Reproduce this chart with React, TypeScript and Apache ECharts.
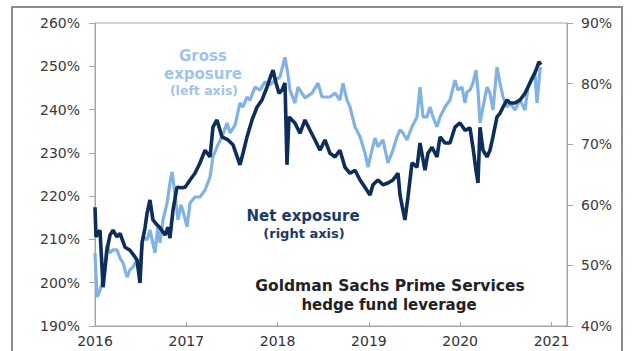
import React, { useEffect, useRef } from "react";
import * as echarts from "echarts";

// Gross exposure (left axis, %) — x in decimal years
const grossX = [
  2016.000, 2016.022, 2016.055, 2016.088, 2016.131, 2016.164, 2016.197, 2016.241, 2016.274, 2016.307,
  2016.351, 2016.383, 2016.416, 2016.460, 2016.493, 2016.526, 2016.570, 2016.602, 2016.657, 2016.690,
  2016.712, 2016.745, 2016.789, 2016.821, 2016.844, 2016.877, 2016.909, 2016.942, 2016.975, 2017.008,
  2017.041, 2017.095, 2017.150, 2017.205, 2017.260, 2017.292, 2017.336, 2017.391, 2017.446, 2017.479,
  2017.534, 2017.588, 2017.621, 2017.665, 2017.698, 2017.753, 2017.807, 2017.862, 2017.917, 2017.972,
  2018.026, 2018.059, 2018.081, 2018.114, 2018.136, 2018.190, 2018.223, 2018.300, 2018.377, 2018.443,
  2018.486, 2018.574, 2018.629, 2018.683, 2018.716, 2018.760, 2018.793, 2018.848, 2018.903, 2018.957,
  2018.990, 2019.034, 2019.067, 2019.100, 2019.154, 2019.209, 2019.264, 2019.308, 2019.341, 2019.373,
  2019.417, 2019.472, 2019.527, 2019.560, 2019.593, 2019.636, 2019.669, 2019.702, 2019.746, 2019.779,
  2019.834, 2019.888, 2019.943, 2019.976, 2020.020, 2020.053, 2020.075, 2020.107, 2020.140, 2020.173,
  2020.195, 2020.217, 2020.250, 2020.294, 2020.326, 2020.359, 2020.403, 2020.436, 2020.469, 2020.513,
  2020.545, 2020.600, 2020.655, 2020.710, 2020.743, 2020.786, 2020.819, 2020.841, 2020.874, 2020.885,
];
const grossY = [
  206.9, 196.7, 198.3, 200.6, 208.7, 206.9, 207.6, 207.6, 205.7, 204.6,
  201.3, 203.0, 203.6, 205.3, 204.1, 210.6, 209.9, 212.2, 206.9, 213.3,
  209.2, 214.5, 218.4, 223.0, 225.6, 220.3, 214.5, 218.0, 215.7, 212.9,
  218.4, 219.8, 219.8, 221.4, 224.4, 229.1, 231.4, 233.7, 236.9, 234.6,
  236.4, 241.5, 240.6, 242.9, 242.2, 245.2, 244.5, 246.4, 245.7, 246.8,
  247.5, 250.3, 252.1, 248.0, 244.5, 241.5, 245.2, 242.7, 243.8, 246.1,
  242.9, 242.9, 243.8, 242.2, 246.1, 242.2, 240.6, 236.0, 233.7, 230.0,
  226.7, 230.7, 233.4, 231.4, 233.0, 227.7, 230.7, 233.7, 235.3, 234.6,
  233.0, 236.0, 238.3, 245.2, 238.3, 238.3, 240.6, 238.3, 236.0, 238.3,
  240.6, 242.2, 246.8, 244.5, 245.2, 241.5, 244.1, 244.5, 246.1, 249.1,
  244.5, 236.9, 240.6, 245.2, 243.8, 239.9, 249.8, 246.1, 242.9, 240.6,
  241.5, 239.9, 242.2, 239.9, 245.2, 247.5, 248.5, 241.5, 249.1, 249.8,
];

// Net exposure (right axis, %)
const netX = [
  2016.000, 2016.011, 2016.055, 2016.088, 2016.131, 2016.164, 2016.197, 2016.241, 2016.274, 2016.329,
  2016.383, 2016.438, 2016.460, 2016.493, 2016.515, 2016.548, 2016.570, 2016.602, 2016.635, 2016.679,
  2016.712, 2016.767, 2016.800, 2016.821, 2016.854, 2016.898, 2016.953, 2016.986, 2017.019, 2017.041,
  2017.095, 2017.150, 2017.205, 2017.260, 2017.292, 2017.336, 2017.391, 2017.457, 2017.512, 2017.588,
  2017.621, 2017.665, 2017.720, 2017.774, 2017.829, 2017.884, 2017.928, 2017.950, 2017.983, 2018.015,
  2018.048, 2018.081, 2018.103, 2018.125, 2018.190, 2018.245, 2018.300, 2018.355, 2018.410, 2018.464,
  2018.519, 2018.574, 2018.629, 2018.683, 2018.738, 2018.793, 2018.848, 2018.903, 2018.957, 2019.012,
  2019.045, 2019.100, 2019.154, 2019.209, 2019.264, 2019.319, 2019.341, 2019.373, 2019.395, 2019.428,
  2019.472, 2019.527, 2019.560, 2019.614, 2019.647, 2019.691, 2019.746, 2019.779, 2019.834, 2019.888,
  2019.943, 2019.998, 2020.053, 2020.107, 2020.140, 2020.173, 2020.195, 2020.217, 2020.250, 2020.294,
  2020.326, 2020.359, 2020.403, 2020.436, 2020.469, 2020.513, 2020.545, 2020.600, 2020.655, 2020.710,
  2020.764, 2020.797, 2020.830, 2020.863, 2020.885,
];
const netY = [
  59.6, 54.7, 55.8, 46.4, 52.5, 55.0, 55.8, 54.7, 55.3, 53.0,
  52.5, 51.4, 50.9, 47.1, 53.7, 56.2, 58.6, 60.8, 57.5, 56.7,
  56.2, 55.0, 56.3, 54.5, 59.1, 62.9, 62.8, 62.9, 63.6, 64.1,
  65.2, 66.9, 69.0, 67.9, 72.8, 74.0, 71.2, 70.7, 69.9, 66.6,
  68.5, 71.2, 74.0, 76.1, 77.3, 79.4, 81.4, 82.2, 80.1, 78.4,
  78.9, 80.1, 66.6, 74.5, 73.5, 71.8, 74.0, 72.3, 70.7, 69.0,
  70.7, 68.5, 67.9, 69.0, 66.2, 65.2, 65.7, 64.1, 62.9, 61.6,
  63.3, 64.1, 63.3, 63.6, 64.1, 65.2, 61.6, 59.1, 57.5, 61.3,
  66.9, 66.2, 70.2, 65.7, 68.5, 69.5, 67.9, 71.2, 70.2, 70.2,
  72.8, 73.5, 72.3, 72.7, 69.5, 65.7, 63.6, 72.8, 69.0, 67.9,
  69.0, 71.2, 74.5, 75.1, 76.1, 77.3, 76.8, 76.8, 77.3, 78.4,
  80.1, 81.1, 82.2, 83.6, 83.1,
];

const yearTicks = [2016, 2017, 2018, 2019, 2020, 2021];

const GROSS = "#80b3e3";
const NET = "#0f2d59";
const FONT = "DejaVu Sans";

export default function App() {
  const ref = useRef<HTMLDivElement>(null);
  useEffect(() => {
    if (!ref.current) return;
    const chart = echarts.init(ref.current, null, { renderer: "svg" });
    const grossData = grossX.map((x, i) => [x, grossY[i]]);
    const netData = netX.map((x, i) => [x, netY[i]]);
    chart.setOption({
      animation: false,
      backgroundColor: "#ffffff",
      grid: {
        left: 95,
        right: 66,
        top: 23,
        bottom: 25,
        show: true,
        borderColor: "#a6a6a6",
        borderWidth: 1,
        backgroundColor: "transparent",
      },
      xAxis: {
        type: "value",
        min: 2016,
        max: 2021.17,
        interval: 1,
        axisLine: { show: true, lineStyle: { color: "#a6a6a6", width: 1 } },
        axisTick: { show: true, inside: true, length: 4, lineStyle: { color: "#a6a6a6" } },
        splitLine: { show: false },
        axisLabel: {
          show: true,
          showMaxLabel: false,
          margin: 8,
          color: "#333333",
          fontFamily: FONT,
          fontSize: 14,
          formatter: (v: number) => (yearTicks.includes(Math.round(v)) && Math.abs(v - Math.round(v)) < 1e-6 ? String(Math.round(v)) : ""),
        },
      },
      yAxis: [
        {
          type: "value",
          position: "left",
          min: 190,
          max: 260,
          interval: 10,
          axisLine: { show: true, lineStyle: { color: "#a6a6a6" } },
          axisTick: { show: true, length: 6, lineStyle: { color: "#a6a6a6" } },
          splitLine: { show: false },
          axisLabel: { margin: 15, color: "#3a3a3a", fontFamily: FONT, fontSize: 14, formatter: "{value}%" },
        },
        {
          type: "value",
          position: "right",
          min: 40,
          max: 90,
          interval: 10,
          axisLine: { show: true, lineStyle: { color: "#a6a6a6" } },
          axisTick: { show: true, length: 6, lineStyle: { color: "#a6a6a6" } },
          splitLine: { show: false },
          axisLabel: { margin: 14, color: "#3a3a3a", fontFamily: FONT, fontSize: 14, formatter: "{value}%" },
        },
      ],
      series: [
        {
          name: "Gross exposure",
          type: "line",
          yAxisIndex: 0,
          data: grossData,
          showSymbol: false,
          symbol: "none",
          lineStyle: { color: GROSS, width: 3.2 },
          z: 2,
        },
        {
          name: "Net exposure",
          type: "line",
          yAxisIndex: 1,
          data: netData,
          showSymbol: false,
          symbol: "none",
          lineStyle: { color: NET, width: 3.6 },
          z: 3,
        },
      ],
      graphic: [
        {
          type: "rect",
          shape: { x: 12, y: 7, width: 610, height: 360 },
          style: { fill: "none", stroke: "#8c8c8c", lineWidth: 2 },
          z: 10,
        },
        {
          type: "text",
          x: 203,
          y: 56,
          style: { text: "Gross", fill: "#9fc4ea", font: `bold 15px "${FONT}"`, textAlign: "center", textVerticalAlign: "middle" },
        },
        {
          type: "text",
          x: 203,
          y: 74,
          style: { text: "exposure", fill: "#9fc4ea", font: `bold 15px "${FONT}"`, textAlign: "center", textVerticalAlign: "middle" },
        },
        {
          type: "text",
          x: 204,
          y: 90,
          style: { text: "(left axis)", fill: "#9fc4ea", font: `bold 12.5px "${FONT}"`, textAlign: "center", textVerticalAlign: "middle" },
        },
        {
          type: "text",
          x: 303,
          y: 216,
          style: { text: "Net exposure", fill: "#1b3a68", font: `bold 15px "${FONT}"`, textAlign: "center", textVerticalAlign: "middle" },
        },
        {
          type: "text",
          x: 304,
          y: 233,
          style: { text: "(right axis)", fill: "#1b3a68", font: `bold 13px "${FONT}"`, textAlign: "center", textVerticalAlign: "middle" },
        },
        {
          type: "text",
          x: 390,
          y: 286,
          style: { text: "Goldman Sachs Prime Services", fill: "#222222", font: `bold 15.5px "${FONT}"`, textAlign: "center", textVerticalAlign: "middle" },
        },
        {
          type: "text",
          x: 389,
          y: 305,
          style: { text: "hedge fund leverage", fill: "#222222", font: `bold 15px "${FONT}"`, textAlign: "center", textVerticalAlign: "middle" },
        },
      ],
    });
    return () => chart.dispose();
  }, []);
  return (
    <div
      ref={ref}
      style={{ position: "fixed", left: 0, top: 0, width: 633, height: 351, background: "#fff" }}
    />
  );
}
